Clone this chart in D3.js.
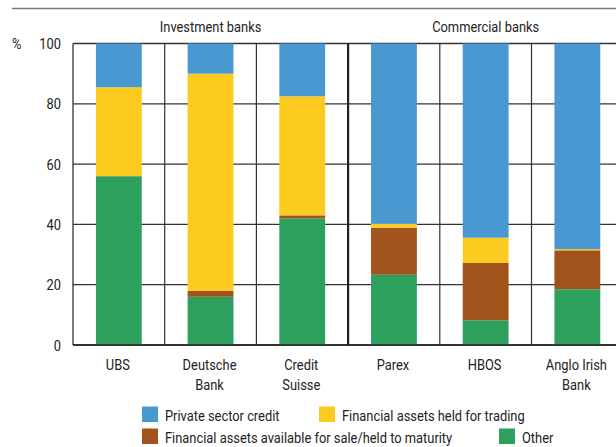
<!DOCTYPE html>
<html>
<head>
<meta charset="utf-8">
<script src="https://cdn.jsdelivr.net/npm/d3@7.9.0/dist/d3.min.js"></script>
<style>
  body { margin: 0; background: #fff; }
  svg text { font-family: "Roboto", "Liberation Sans", sans-serif; font-size: 14px; fill: #222; }
</style>
</head>
<body>
<svg id="chart" width="616" height="447"></svg>
<script>
// bank names (two-line labels split by \n)
const banks = ["UBS", "Deutsche\nBank", "Credit\nSuisse", "Parex", "HBOS", "Anglo Irish\nBank"];
const groups = [
  { label: "Investment banks", from: 0, to: 2 },
  { label: "Commercial banks", from: 3, to: 5 }
];

// shares of total assets, per cent (bottom to top)
const other = [56, 16, 42, 23.3, 8.2, 18.5];
const availableForSale = [0, 2, 1, 15.6, 19, 12.9];
const heldForTrading = [29.5, 72, 39.5, 1.3, 8.4, 0.4];
const privateCredit = [14.5, 10, 17.5, 59.8, 64.4, 68.2];

const yTicks = [0, 20, 40, 60, 80, 100];

const seriesNames = ["Other", "Financial assets available for sale/held to maturity",
  "Financial assets held for trading", "Private sector credit"];
const colors = ["#2ea05e", "#a0541b", "#fdcb1f", "#4a98d2"];

const svg = d3.select("#chart");
const plotLeft = 73, plotTop = 43.5, plotBottom = 345;
const step = 91.7;
const squeeze = 0.92; // the original uses a condensed face

// narrow text: place at (x, y) and squeeze horizontally
function label(parent, x, y, str, anchor = "start") {
  return parent.append("text")
    .attr("transform", `translate(${x},${y}) scale(${squeeze},1)`)
    .attr("text-anchor", anchor)
    .text(str);
}

const x = d3.scaleBand()
  .domain(banks)
  .range([plotLeft, plotLeft + step * banks.length])
  .paddingInner(0.5)
  .paddingOuter(0.25);
const y = d3.scaleLinear().domain([0, 100]).range([plotBottom, plotTop]);

// top rule
svg.append("line")
  .attr("x1", 12).attr("x2", 616).attr("y1", 8.5).attr("y2", 8.5)
  .attr("stroke", "#777").attr("stroke-width", 1.5);

// group headers
groups.forEach(g => {
  const cx = (x(banks[g.from]) + x(banks[g.to]) + x.bandwidth()) / 2;
  label(svg, cx, 32, g.label, "middle");
});

// gridlines
svg.append("g")
  .selectAll("line")
  .data(yTicks)
  .join("line")
  .attr("x1", plotLeft).attr("x2", 616)
  .attr("y1", d => y(d)).attr("y2", d => y(d))
  .attr("stroke", "#333").attr("stroke-width", 1.3);

// column dividers
banks.slice(1).forEach((b, i) => {
  const xx = x(b) - x.step() * 0.25;
  const isGroup = i + 1 === 3;
  svg.append("line")
    .attr("x1", xx).attr("x2", xx).attr("y1", plotTop).attr("y2", plotBottom)
    .attr("stroke", isGroup ? "#222" : "#333")
    .attr("stroke-width", isGroup ? 2.2 : 1.2);
});

// left axis line
svg.append("line")
  .attr("x1", plotLeft).attr("x2", plotLeft).attr("y1", plotTop).attr("y2", plotBottom)
  .attr("stroke", "#333").attr("stroke-width", 1.3);

// stacked bars
const rows = banks.map((b, i) => ({
  bank: b,
  s0: other[i], s1: availableForSale[i], s2: heldForTrading[i], s3: privateCredit[i]
}));
const stack = d3.stack().keys(["s0", "s1", "s2", "s3"]);
const layers = stack(rows);

svg.append("g")
  .selectAll("g")
  .data(layers)
  .join("g")
  .attr("fill", (d, i) => colors[i])
  .selectAll("rect")
  .data(d => d)
  .join("rect")
  .attr("x", d => x(d.data.bank))
  .attr("width", x.bandwidth())
  .attr("y", d => y(d[1]))
  .attr("height", d => y(d[0]) - y(d[1]));

// bottom axis line on top of bars
svg.append("line")
  .attr("x1", plotLeft).attr("x2", 616).attr("y1", plotBottom).attr("y2", plotBottom)
  .attr("stroke", "#222").attr("stroke-width", 1.5);

// y tick labels
yTicks.forEach(t => label(svg, 61, y(t) + 5.5, t, "end"));
label(svg, 12, y(100) + 5.5, "%");

// x labels
banks.forEach(b => {
  const cx = x(b) + x.bandwidth() / 2 - 1;
  b.split("\n").forEach((line, j) => label(svg, cx, 370 + j * 20, line, "middle"));
});

// legend
const legendItems = [
  { name: seriesNames[3], color: colors[3], x: 142, y: 406.5 },
  { name: seriesNames[2], color: colors[2], x: 319, y: 406.5 },
  { name: seriesNames[1], color: colors[1], x: 142, y: 428.5 },
  { name: seriesNames[0], color: colors[0], x: 499, y: 428.5 }
];
legendItems.forEach(d => {
  svg.append("rect")
    .attr("x", d.x).attr("y", d.y)
    .attr("width", 16).attr("height", 15.5)
    .attr("fill", d.color);
  label(svg, d.x + 23, d.y + 14.5, d.name);
});
</script>
</body>
</html>
